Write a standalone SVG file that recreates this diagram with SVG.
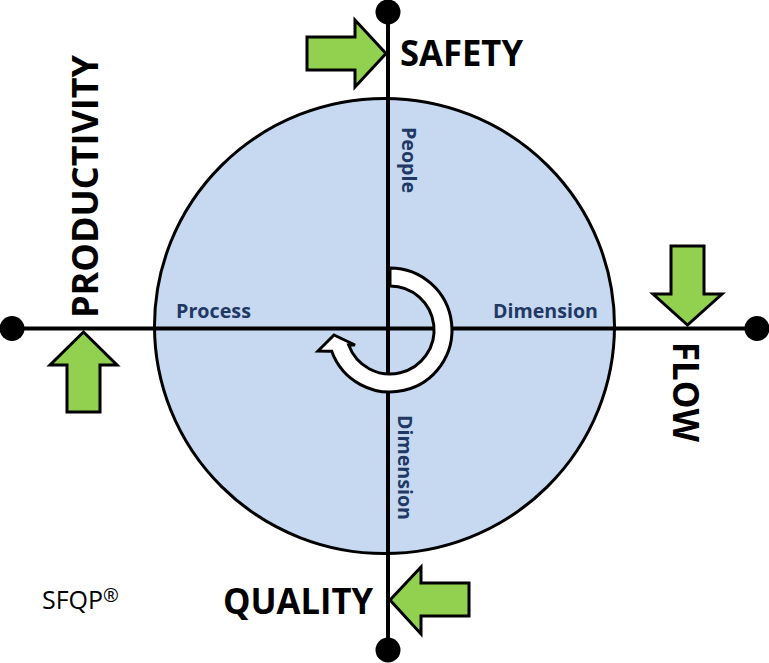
<svg xmlns="http://www.w3.org/2000/svg" width="769" height="663" viewBox="0 0 769 663">
<style>
.axis{stroke:#000;stroke-width:4;fill:none}
.dot{fill:#000}
.garrow{fill:#92D050;stroke:#000;stroke-width:3;stroke-linejoin:miter}
.big{font-family:"Open Sans","Liberation Sans",sans-serif;font-weight:700;font-size:36px;fill:#000}
.lbl{font-family:"Open Sans","Liberation Sans",sans-serif;font-weight:700;font-size:19px;fill:#1F3864}
.small{font-family:"Open Sans","Liberation Sans",sans-serif;font-size:25px;fill:#000}
</style>
<rect width="769" height="663" fill="#fff"/>
<g id="circle">
<ellipse cx="384.5" cy="326" rx="230" ry="227.5" fill="#C6D9F1" stroke="#000" stroke-width="3"/>
</g>
<g id="connectors">
<line class="axis" x1="388" y1="12" x2="388" y2="650"/>
<line class="axis" x1="12" y1="328.5" x2="757" y2="328.5"/>
<circle class="dot" cx="388" cy="12" r="12.5"/>
<circle class="dot" cx="388" cy="650" r="12.5"/>
<circle class="dot" cx="12" cy="328.5" r="12.5"/>
<circle class="dot" cx="757" cy="328.5" r="12.5"/>
</g>
<g id="cycle">
<path d="M390,268 A62,62 0 1 1 331.7,351.2 L318,351 L334,335 L355,345 L348.7,345 A44,44 0 1 0 390,286 Z" fill="#fff" stroke="#000" stroke-width="3" stroke-linejoin="miter"/>
</g>
<g id="labels">
<text class="lbl" x="176" y="318" textLength="75" lengthAdjust="spacingAndGlyphs">Process</text>
<text class="lbl" x="493" y="318" textLength="105" lengthAdjust="spacingAndGlyphs">Dimension</text>
<text class="lbl" transform="translate(402,127) rotate(90)" textLength="66" lengthAdjust="spacingAndGlyphs">People</text>
<text class="lbl" transform="translate(398,415) rotate(90)" textLength="105" lengthAdjust="spacingAndGlyphs">Dimension</text>
</g>
<g id="safety">
<path class="garrow" d="M307,37 H355 V20 L386,53.5 L355,87 V70 H307 Z"/>
<text class="big" x="400" y="66" textLength="123" lengthAdjust="spacingAndGlyphs">SAFETY</text>
</g>
<g id="productivity">
<path class="garrow" d="M83.5,332 L117,365 H100 V412 H67 V365 H50 Z"/>
<text class="big" transform="translate(98,318) rotate(-90)" textLength="263" lengthAdjust="spacingAndGlyphs">PRODUCTIVITY</text>
</g>
<g id="flow">
<path class="garrow" d="M671,246 H704 V294 H722 L687.5,325 L653,294 H671 Z"/>
<text class="big" transform="translate(673,342) rotate(90)" textLength="100" lengthAdjust="spacingAndGlyphs">FLOW</text>
</g>
<g id="quality">
<path class="garrow" d="M390,600 L421,567 V583 H469 V616 H421 V634 Z"/>
<text class="big" x="223" y="614" textLength="150" lengthAdjust="spacingAndGlyphs">QUALITY</text>
</g>
<g id="brand">
<text class="small" x="42" y="609">SFQP<tspan font-size="19" dy="-7">®</tspan></text>
</g>
</svg>
